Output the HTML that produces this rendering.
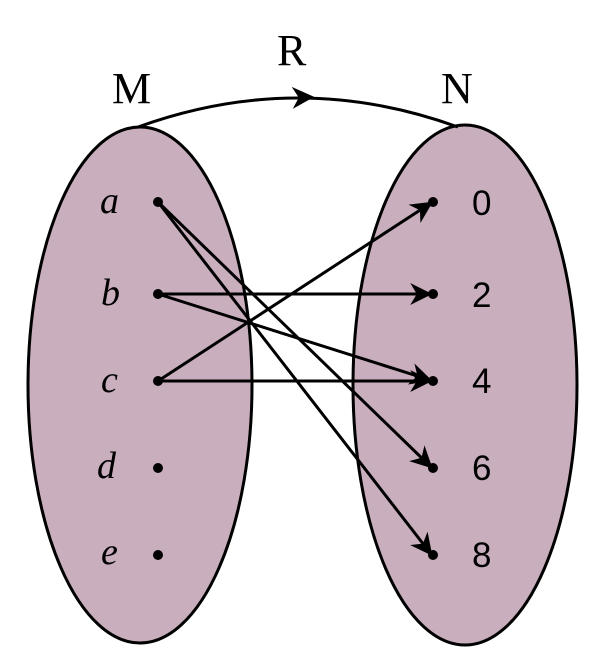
<!DOCTYPE html>
<html><head><style>body{margin:0;background:#fff}svg{display:block}</style></head><body>
<svg width="600" height="657" xmlns="http://www.w3.org/2000/svg">
<defs>
<marker id="bh" viewBox="0 0 10 10" refX="9" refY="5" markerWidth="22" markerHeight="22" orient="auto" markerUnits="userSpaceOnUse"><path d="M0,0 L10,5 L0,10 L3,5 z" fill="#000"/></marker></defs>
<ellipse cx="140" cy="385" rx="112" ry="258" fill="#c9aebd" stroke="#000" stroke-width="3"/>
<ellipse cx="465" cy="385" rx="112" ry="260" fill="#c9aebd" stroke="#000" stroke-width="3"/>
<path d="M138,127 Q298,69 458,127" fill="none" stroke="#000" stroke-width="3"/>
<path d="M290,98 L312,97" stroke="none" fill="none" marker-end="url(#bh)"/>
<g font-family="Liberation Serif, serif" font-size="44" fill="#000">
<text x="112" y="103">M</text><text x="277" y="65">R</text><text x="441" y="103">N</text></g>
<g font-family="Liberation Serif, serif" font-style="italic" font-size="38" fill="#000">
<text x="100" y="213">a</text><text x="101" y="305">b</text><text x="101" y="392">c</text><text x="97" y="478">d</text><text x="101" y="564">e</text></g>
<g font-family="Liberation Sans, sans-serif" font-size="35" fill="#000">
<text x="472" y="215">0</text><text x="472" y="307">2</text><text x="472" y="393">4</text><text x="472" y="480">6</text><text x="472" y="567">8</text></g>
<g stroke="#000" stroke-width="3" fill="none">
<line x1="158" y1="202" x2="431" y2="467" marker-end="url(#bh)"/>
<line x1="158" y1="202" x2="431" y2="554" marker-end="url(#bh)"/>
<line x1="158" y1="294" x2="430" y2="294" marker-end="url(#bh)"/>
<line x1="158" y1="294" x2="430" y2="380" marker-end="url(#bh)"/>
<line x1="158" y1="381" x2="431" y2="203" marker-end="url(#bh)"/>
<line x1="158" y1="381" x2="430" y2="381" marker-end="url(#bh)"/>
</g>
<g fill="#000"><circle cx="158" cy="202" r="5"/><circle cx="158" cy="294" r="5"/><circle cx="158" cy="381" r="5"/><circle cx="158" cy="468" r="5"/><circle cx="158" cy="555" r="5"/>
<circle cx="433" cy="202" r="5"/><circle cx="433" cy="294" r="5"/><circle cx="433" cy="381" r="5"/><circle cx="433" cy="468" r="5"/><circle cx="433" cy="555" r="5"/></g>
</svg>
</body></html>
